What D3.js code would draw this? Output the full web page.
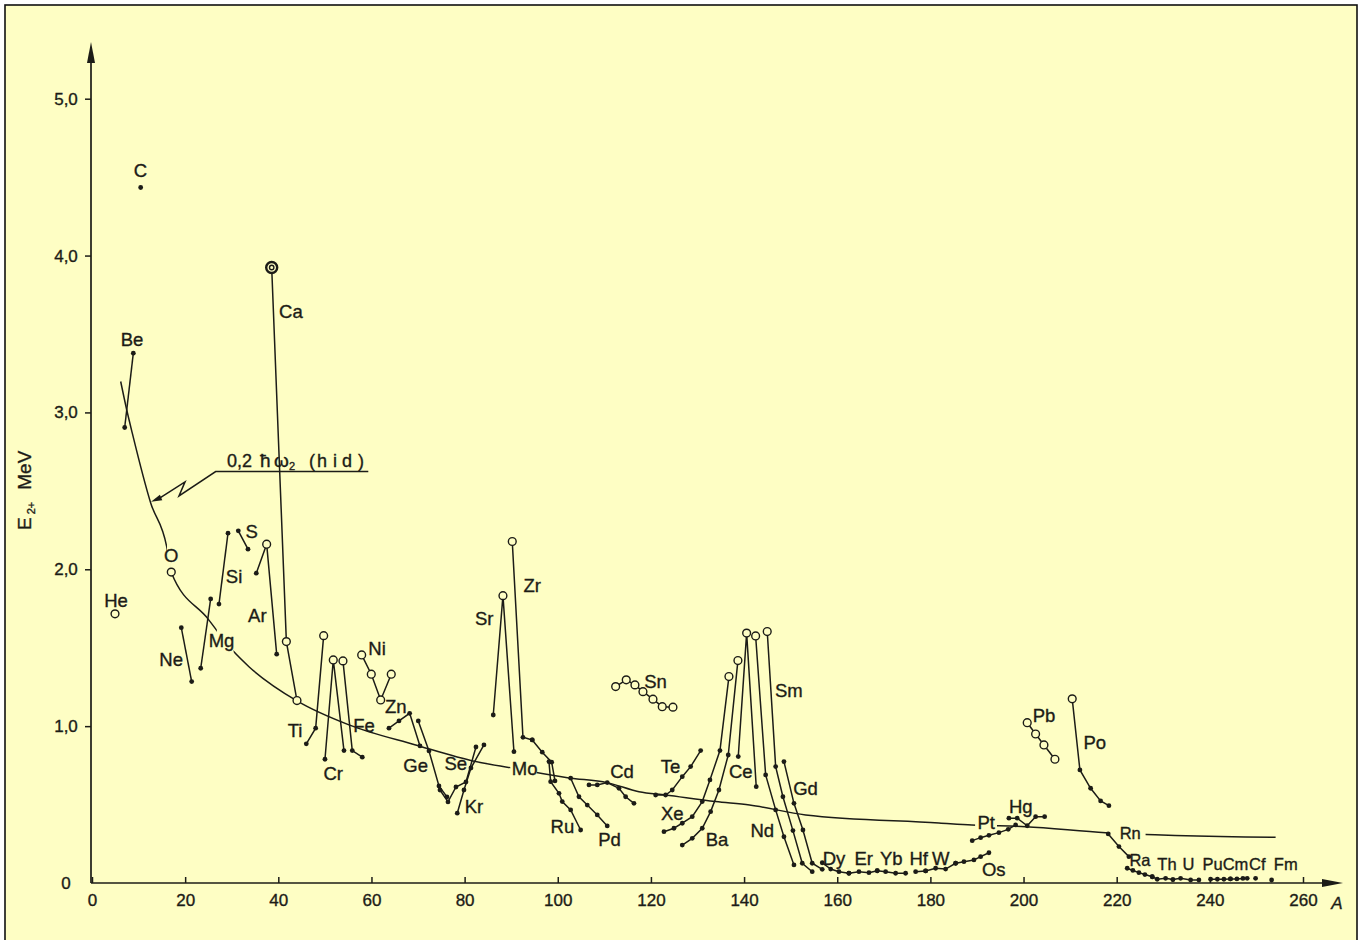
<!DOCTYPE html>
<html><head><meta charset="utf-8">
<script src="https://cdn.jsdelivr.net/npm/d3@7"></script>
<style>
body{margin:0;background:#fff;}
text{font-family:"Liberation Sans",Arial,sans-serif;fill:#1c1c17;stroke:#1c1c17;stroke-width:0.35px;}
</style></head>
<body><svg id="chart" width="1363" height="940"></svg>
<script>
// ---------- data ----------
const xTicks=[0,20,40,60,80,100,120,140,160,180,200,220,240,260];
const xTickLabels=["0","20","40","60","80","100","120","140","160","180","200","220","240","260"];
const yTicks=[0,1,2,3,4,5];
const yTickLabels=["0","1,0","2,0","3,0","4,0","5,0"];

const seriesNames=["He","C","Be","O","Ne","Mg","Si","S","Ar","Ca","Ti","Cr","Fe","Ni","Zn","Ge","Se","Kr","Sr","Zr","Mo","Ru","Pd","Cd","Sn","Te","Xe","Ba","Ce","Nd","Sm","Gd","Dy","Er","Yb","Hf","W","Os","Pt","Hg","Pb","Po","Rn","Ra","Th","U","Pu","Cm","Cf","Fm"];
const seriesA=[
 [4.94],[10.45],[8.87,7.02],[17.02],[19.17,21.40],[23.34,25.48],[27.26,29.20],[31.41,33.49],
 [35.27,37.50,39.65],[38.58,41.73,44.01],[46.01,48.02,49.74],[50.02,51.80,54.10],[53.88,55.88,58.03],
 [57.90,59.96,61.98,64.25],[63.76,65.91,68.20,70.42],[70.05,72.35,74.49,76.21],
 [74.71,76.43,78.14,80.29,82.44],[78.42,79.86,81.36,84.15],[86.15,88.23,90.59],[90.23,92.53,94.52],
 [94.52,96.67,98.69,99.40],[98.11,98.47,100.26,100.96,102.77,104.91],[102.77,104.55,106.33,108.48,110.62],
 [106.70,108.48,110.62,113.14,114.57,116.36],[112.43,114.70,116.57,118.29,120.44,122.43,124.73],
 [121.01,123.16,124.58,126.73,128.53,130.68],[122.80,124.94,126.73,128.87,131.02,132.67,134.82,136.75],
 [126.73,128.87,131.02,132.82,134.60,136.60,138.68],[138.75,140.55,142.61],
 [142.48,144.63,146.78,148.56,150.71],[144.97,146.78,148.34,150.49,152.49,154.63],
 [148.56,150.71,152.64,154.63,156.78],[156.78,158.59,160.37,162.51],[162.51,164.66,166.81,168.59],
 [168.59,170.39,172.54,174.68],[176.83,178.98],[178.98,181.12,183.27,185.42],
 [185.42,187.20,189.35,190.79,192.57],[188.98,190.79,192.57,194.71,196.71,198.30],
 [196.86,198.64,200.79,202.59,204.53],[200.79,202.59,204.38,206.74],[210.45,212.10,214.40,216.55,218.33],
 [218.18,220.48,222.62],[222.26,223.48,224.77,226.06,227.63],[227.63,228.70,230.50,232.07],
 [232.07,233.72,235.87,237.65],[240.16,241.62,243.02,244.42],[244.42,245.81,247.10,248.02],[249.82],[253.26]
];
const seriesE=[
 [1.716],[4.434],[3.378,2.904],[1.982],[1.628,1.284],[1.369,1.811],[1.778,2.230],[2.245,2.128],
 [1.975,2.160,1.459],[3.924,1.539,1.163],[0.887,0.987,1.577],[0.789,1.422,0.844],[1.416,0.844,0.802],
 [1.454,1.331,1.167,1.331],[0.987,1.033,1.082,0.874],[1.033,0.842,0.619,0.549],
 [0.593,0.517,0.612,0.644,0.867],[0.445,0.593,0.733,0.880],[1.071,1.832,0.837],[2.177,0.929,0.912],
 [0.912,0.834,0.770,0.651],[0.774,0.646,0.572,0.519,0.466,0.338],[0.668,0.550,0.497,0.434,0.364],
 [0.625,0.625,0.640,0.604,0.550,0.508],[1.252,1.295,1.263,1.220,1.172,1.124,1.121],
 [0.561,0.561,0.593,0.678,0.742,0.844],[0.327,0.349,0.381,0.423,0.519,0.657,0.844,1.316],
 [0.242,0.285,0.349,0.455,0.593,0.816,1.418],[0.806,1.593,0.614],
 [1.575,0.689,0.466,0.295,0.115],[1.603,0.742,0.550,0.334,0.126,0.072],
 [0.774,0.508,0.338,0.126,0.087],[0.129,0.089,0.072,0.062],[0.062,0.072,0.066,0.078],
 [0.078,0.072,0.062,0.062],[0.072,0.077],[0.077,0.094,0.089,0.126],
 [0.126,0.136,0.147,0.168,0.193],[0.270,0.289,0.304,0.321,0.342,0.370],
 [0.413,0.413,0.365,0.423,0.423],[1.022,0.950,0.880,0.789],[1.174,0.721,0.604,0.523,0.493],
 [0.313,0.232,0.168],[0.094,0.080,0.066,0.054,0.040],[0.040,0.024,0.030,0.022],
 [0.022,0.030,0.019,0.019],[0.024,0.024,0.024,0.026],[0.026,0.026,0.029,0.030],[0.030],[0.019]
];
// 0 = filled dot, 1 = open circle, 2 = double circle
const seriesOpen=[
 [1],[0],[0,0],[1],[0,0],[0,0],[0,0],[0,0],[0,1,0],[2,1,1],[0,0,1],[0,1,0],[1,0,0],[1,1,1,1],[0,0,0,0],[0,0,0,0],
 [0,0,0,0,0],[0,0,0,0],[0,1,0],[1,0,0],[0,0,0,0],[0,0,0,0,0,0],[0,0,0,0,0],[0,0,0,0,0,0],[1,1,1,1,1,1,1],
 [0,0,0,0,0,0],[0,0,0,0,0,0,0,1],[0,0,0,0,0,0,1],[0,1,0],[1,0,0,0,0],[1,0,0,0,0,0],[0,0,0,0,0],
 [0,0,0,0],[0,0,0,0],[0,0,0,0],[0,0],[0,0,0,0],[0,0,0,0,0],[0,0,0,0,0,0],[0,0,0,0,0],[1,1,1,1],[1,0,0,0,0],
 [0,0,0],[0,0,0,0,0],[0,0,0,0],[0,0,0,0],[0,0,0,0],[0,0,0,0],[0],[0]
];

const labelText=["C","Be","He","O","Ne","Mg","Si","S","Ar","Ca","Ti","Cr","Fe","Ni","Zn","Ge","Se","Kr","Sr","Zr","Mo","Ru","Pd","Cd","Sn","Te","Xe","Ba","Ce","Nd","Sm","Gd","Dy","Er","Yb","Hf","W","Os","Pt","Hg","Pb","Po","Rn","Ra","Th","U","Pu","Cm","Cf","Fm"];
const labelA=[10.4,8.6,5.15,17.0,17.0,27.8,30.5,34.3,35.5,42.7,43.6,51.8,58.4,61.2,65.2,69.5,78.1,82.0,84.2,94.5,92.9,101.0,111.1,113.8,121.0,124.2,124.6,134.2,139.3,143.9,149.6,153.2,159.3,165.7,171.6,177.5,182.2,193.6,192.0,199.4,204.4,215.3,222.9,225.0,230.8,235.4,240.6,245.5,250.2,256.3];
const labelE=[4.541,3.463,1.805,2.092,1.427,1.550,1.958,2.240,1.709,3.642,0.976,0.700,1.008,1.497,1.124,0.753,0.763,0.487,1.688,1.900,0.733,0.364,0.279,0.710,1.284,0.742,0.445,0.279,0.710,0.338,1.231,0.604,0.158,0.158,0.158,0.158,0.158,0.087,0.385,0.487,1.071,0.895,0.317,0.147,0.121,0.121,0.121,0.121,0.121,0.121];

// 0,2 hbar omega_2 (hydrodynamic) reference curve
const curveA=[6.16,7.45,8.65,12.60,16.04,17.02,24.90,30.27,33.70,44.01,55.17,69.49,82.37,90.17,102.40,110.62,117.43,123.16,133.9,141.18,153.22,181.84,188.92,200.45,217.62,254.12];
const curveE=[3.197,3.017,2.868,2.423,2.145,1.981,1.684,1.480,1.379,1.161,1.008,0.880,0.774,0.733,0.670,0.640,0.582,0.561,0.519,0.497,0.434,0.383,0.370,0.359,0.321,0.291];
const curveGaps=[[16.1,16.95],[26.8,30.4],[89.8,95.5],[189.6,194.3],[218.6,226.2]];
const leaderA=[59.32,26.55,18.68,19.97,14.6];
const leaderE=[2.623,2.623,2.468,2.557,2.455];
const arrowTip=[12.67,2.430];

// ---------- drawing ----------
const ink="#1c1c17", paper="#fefec4";
const svg=d3.select("#chart");
svg.append("rect").attr("x",5).attr("y",5).attr("width",1352).attr("height",960)
  .attr("fill",paper).attr("stroke","#111").attr("stroke-width",1.6);

const x=d3.scaleLinear().domain([0,260]).range([92,1303]);
const y=d3.scaleLinear().domain([0,5]).range([883,98.7]);

// axes
const gx=svg.append("g").attr("transform",`translate(0,${y(0)})`)
  .call(d3.axisBottom(x).tickValues(xTicks).tickSizeInner(-6).tickSizeOuter(0).tickPadding(11)
  .tickFormat((d,i)=>xTickLabels[i]));
gx.select(".domain").remove();
gx.selectAll("line").attr("stroke",ink).attr("stroke-width",1.5);
gx.selectAll("text").attr("font-size",17).attr("fill",ink).attr("font-family",null);

const gy=svg.append("g").attr("transform",`translate(${x(0)-1},0)`)
  .call(d3.axisLeft(y).tickValues(yTicks).tickSizeInner(6).tickSizeOuter(0)
  .tickFormat((d,i)=>yTickLabels[i]));
gy.select(".domain").remove();
gy.selectAll("line").attr("stroke",ink).attr("stroke-width",1.5).attr("display",d=>d===0?"none":null);
gy.selectAll("text").attr("font-size",17).attr("fill",ink).attr("text-anchor","middle").attr("x",-25)
  .attr("font-family",null);

const x0=x(0)-1;
svg.append("line").attr("x1",x0).attr("y1",y(0)).attr("x2",x0).attr("y2",50).attr("stroke",ink).attr("stroke-width",1.7);
svg.append("path").attr("d",`M${x0-4},63L${x0},42L${x0+4},63Z`).attr("fill",ink);
svg.append("line").attr("x1",x0).attr("y1",y(0)).attr("x2",1335).attr("y2",y(0)).attr("stroke",ink).attr("stroke-width",1.7);
svg.append("path").attr("d",`M1322,${y(0)-4}L1343,${y(0)}L1322,${y(0)+4}Z`).attr("fill",ink);
svg.append("text").attr("x",1337).attr("y",909).attr("font-size",17).attr("font-style","italic").attr("text-anchor","middle").text("A");

// y-axis title
const yt=svg.append("text").attr("transform","translate(31,530) rotate(-90)").attr("font-size",19);
yt.append("tspan").text("E");
yt.append("tspan").attr("font-size",11).attr("dx",3).attr("dy",4).text("2+");
yt.append("tspan").attr("dy",-4).attr("dx",12).text("MeV");

// reference curve with gaps where labels sit
const mask=svg.append("defs").append("mask").attr("id","cm").attr("maskUnits","userSpaceOnUse")
  .attr("x",0).attr("y",0).attr("width",1363).attr("height",940);
mask.append("rect").attr("x",0).attr("y",0).attr("width",1363).attr("height",940).attr("fill","white");
mask.selectAll("rect.g").data(curveGaps).join("rect").attr("class","g")
  .attr("x",d=>x(d[0])).attr("width",d=>x(d[1])-x(d[0])).attr("y",0).attr("height",940).attr("fill","black");
const curvePts=curveA.map((a,i)=>[a,curveE[i]]);
svg.append("path").datum(curvePts)
  .attr("d",d3.line().x(d=>x(d[0])).y(d=>y(d[1])).curve(d3.curveMonotoneX))
  .attr("fill","none").attr("stroke",ink).attr("stroke-width",1.5).attr("mask","url(#cm)");

// curve annotation
const leaderPts=leaderA.map((a,i)=>[x(a),y(leaderE[i])]);
svg.append("path").attr("d",d3.line()(leaderPts)).attr("fill","none").attr("stroke",ink).attr("stroke-width",1.5);
{
  const [ax,ay]=[x(arrowTip[0]),y(arrowTip[1])];
  const [bx,by]=leaderPts[leaderPts.length-1];
  const ang=Math.atan2(ay-by,ax-bx), L=11, w=3;
  const px=ax-L*Math.cos(ang), py=ay-L*Math.sin(ang);
  svg.append("path").attr("d",`M${ax},${ay}L${px-w*Math.sin(ang)},${py+w*Math.cos(ang)}L${px+w*Math.sin(ang)},${py-w*Math.cos(ang)}Z`).attr("fill",ink);
  svg.append("line").attr("x1",bx).attr("y1",by).attr("x2",px).attr("y2",py).attr("stroke",ink).attr("stroke-width",1.5);
}
{
  const tx=x(28.98), ty=y(2.655);
  const parts=[["0,2",0,18,0],["ħ",33,19,0],["ω",47,19,0],["2",62,11,3],["(",82,18,0],["h",90,18,0],["i",106,18,0],["d",115,18,0],[")",131,18,0]];
  svg.append("g").selectAll("text").data(parts).join("text")
    .attr("x",d=>tx+d[1]).attr("y",d=>ty+d[3]).attr("font-size",d=>d[2]).text(d=>d[0]);
}

// isotope series
const lineGen=d3.line().x(d=>x(d[0])).y(d=>y(d[1]));
seriesNames.forEach((nm,si)=>{
  const pts=seriesA[si].map((a,i)=>[a,seriesE[si][i],seriesOpen[si][i]]);
  if(pts.length>1) svg.append("path").datum(pts).attr("d",lineGen).attr("fill","none").attr("stroke",ink).attr("stroke-width",1.5);
});
seriesNames.forEach((nm,si)=>{
  const pts=seriesA[si].map((a,i)=>[a,seriesE[si][i],seriesOpen[si][i]]);
  const g=svg.append("g");
  g.selectAll("circle.o").data(pts.filter(p=>p[2]>=1)).join("circle")
    .attr("cx",d=>x(d[0])).attr("cy",d=>y(d[1])).attr("r",d=>d[2]===2?5.5:3.9)
    .attr("fill",paper).attr("stroke",ink).attr("stroke-width",d=>d[2]===2?2.4:1.4);
  g.selectAll("circle.i").data(pts.filter(p=>p[2]===2)).join("circle")
    .attr("cx",d=>x(d[0])).attr("cy",d=>y(d[1])).attr("r",2.2)
    .attr("fill","none").attr("stroke",ink).attr("stroke-width",1.4);
  g.selectAll("circle.f").data(pts.filter(p=>p[2]===0)).join("circle")
    .attr("cx",d=>x(d[0])).attr("cy",d=>y(d[1])).attr("r",2.4).attr("fill",ink);
});

// element labels
const crowded=new Set(["Th","U","Pu","Cm","Cf","Fm","Ra","Rn"]);
svg.append("g").selectAll("text").data(labelText).join("text")
  .attr("x",(d,i)=>x(labelA[i])).attr("y",(d,i)=>y(labelE[i])).attr("dy","0.36em")
  .attr("text-anchor","middle").attr("font-size",d=>crowded.has(d)?16.5:18.5).text(d=>d);
</script></body></html>
